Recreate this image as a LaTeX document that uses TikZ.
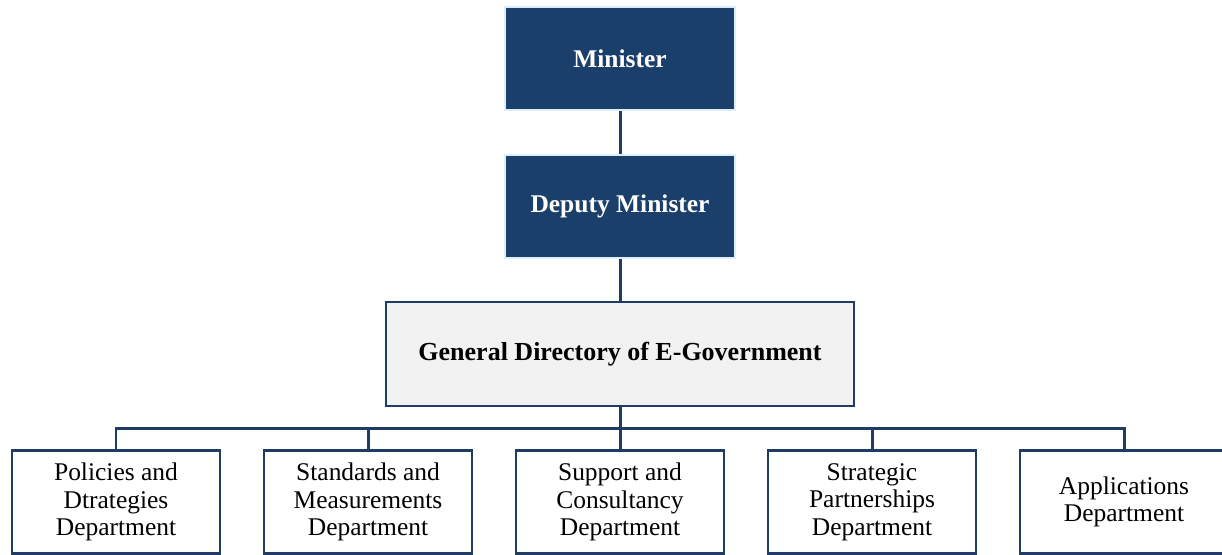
\documentclass[tikz,border=0pt]{standalone}
\usepackage{fontspec}
\setmainfont{Liberation Serif}
\usepackage{tikz}
\definecolor{ministryblue}{HTML}{1A3F6B}
\definecolor{paleedge}{HTML}{DCEEFA}
\definecolor{linkblue}{HTML}{1F3D64}
\definecolor{paper}{HTML}{F2F2F2}

\begin{document}
\begin{tikzpicture}[x=0.02cm, y=-0.02cm,
  headbox/.style={rectangle, fill=ministryblue, draw=paleedge, line width=0.9pt,
    minimum width=4.6cm, minimum height=2.06cm, text=white,
    font=\fontsize{14.5}{16}\selectfont\bfseries},
  dirbox/.style={rectangle, fill=paper, draw=linkblue, line width=1.6pt,
    minimum width=9.36cm, minimum height=2.08cm,
    font=\fontsize{14.8}{16}\selectfont\bfseries},
  deptbox/.style={rectangle, fill=white, draw=linkblue, line width=1.6pt,
    minimum width=4.16cm, minimum height=2.07cm, align=center,
    font=\fontsize{14.5}{15.6}\selectfont},
  link/.style={draw=linkblue, line width=1.7pt}]
\useasboundingbox (0,0) rectangle (1222,554);
\clip (0,0) rectangle (1222,554);
%%% Draws the top of the chart
% draws boxes
\node[headbox] (min) at (620,58.5) {Minister};
\node[headbox] (dep) at (620,206.5) {Deputy Minister};
\node[dirbox] (gd) at (620,354) {General Directory of E-Government};
% draws links
\draw[link] (min) -- (dep);
\draw[link] (dep) -- (gd);
%%% Draws the departments
% draws boxes
\node[deptbox] (pol) at (116,502) {Policies and\\Dtrategies\\Department};
\node[deptbox] (std) at (368,502) {Standards and\\Measurements\\Department};
\node[deptbox] (sup) at (620,502) {Support and\\Consultancy\\Department};
\node[deptbox] (str) at (872,502) {Strategic\\Partnerships\\Department};
\node[deptbox] (app) at (1124,502) {Applications\\Department};
% draws links
\coordinate (bus) at (620,428);
\draw[link] (gd) -- (bus);
\draw[link] (pol.north) |- (bus);
\draw[link] (std.north) |- (bus);
\draw[link] (sup.north) -- (bus);
\draw[link] (str.north) |- (bus);
\draw[link] (app.north) |- (bus);
\end{tikzpicture}
\end{document}
